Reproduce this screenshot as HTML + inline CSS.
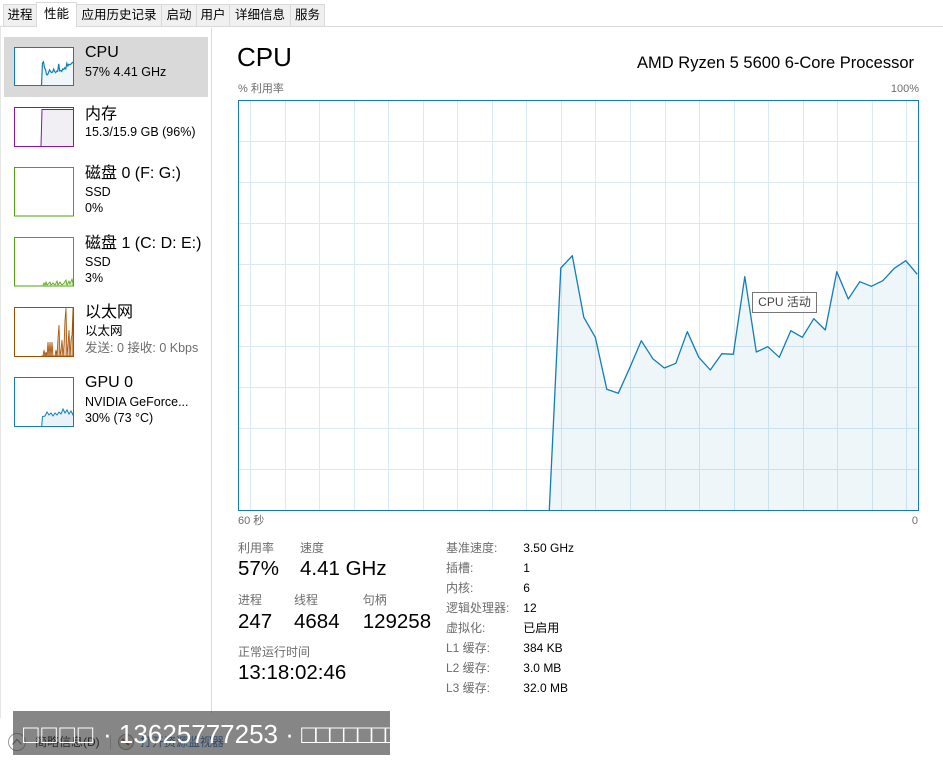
<!DOCTYPE html>
<html><head><meta charset="utf-8">
<style>
html,body{margin:0;padding:0;}
body{width:943px;height:767px;overflow:hidden;position:relative;background:#fff;font-family:"Liberation Sans","Noto Sans CJK SC",sans-serif;color:#000;}
.t{position:absolute;white-space:nowrap;}
.tab{position:absolute;top:4px;height:21px;background:#f0f0f0;border:1px solid #d9d9d9;font-size:12.5px;line-height:21px;text-align:center;color:#000;box-sizing:content-box;}
.tab.sel{top:2px;height:24px;background:#fff;border-bottom:none;line-height:23px;z-index:2;}
.s1{font-size:16px;line-height:20px;}
.s2{font-size:12px;line-height:16px;}
.s3{font-size:12.5px;line-height:16px;}
.g{color:#6d6d6d;}
.big{font-size:20.5px;line-height:24px;}
</style></head><body>

<svg width="943" height="767" style="position:absolute;left:0;top:0" xmlns="http://www.w3.org/2000/svg">
  <rect x="0" y="26" width="943" height="1" fill="#d9d9d9"/>
  <rect x="0" y="27" width="1" height="691" fill="#e6e6e6"/>
  <rect x="211" y="28" width="1" height="685" fill="#d9d9d9"/>
  <rect x="4" y="37" width="204" height="60" fill="#d9d9d9"/>

  <!-- CPU thumb -->
  <rect x="14.5" y="47.5" width="59" height="38" fill="#fff" stroke="#117dbb"/>
  <g transform="translate(14,47) scale(0.0882,0.0951) translate(-238,-100)">
    <polygon fill="#f1f6fa" points="549.3,510 560.8,268 572.3,255.7 583.8,317.3 595.3,337.3 606.8,389.3 618.3,393.3 629.8,367.7 641.3,340.7 652.8,358.7 664.3,368 675.8,363.3 687.3,331.7 698.8,357.3 710.3,370 721.8,353.7 733.3,354.3 744.8,276.7 756.3,352 767.8,346.7 779.3,357.3 790.8,330.7 802.3,337.3 813.8,318.7 825.3,330 836.8,271.7 848.3,299 859.8,281.7 871.3,286.3 882.8,280.7 894.3,268.3 905.8,260.7 917.3,274.3 917.3,510"/>
    <polyline fill="none" stroke="#117dbb" stroke-width="1.2" vector-effect="non-scaling-stroke" points="549.3,510 560.8,268 572.3,255.7 583.8,317.3 595.3,337.3 606.8,389.3 618.3,393.3 629.8,367.7 641.3,340.7 652.8,358.7 664.3,368 675.8,363.3 687.3,331.7 698.8,357.3 710.3,370 721.8,353.7 733.3,354.3 744.8,276.7 756.3,352 767.8,346.7 779.3,357.3 790.8,330.7 802.3,337.3 813.8,318.7 825.3,330 836.8,271.7 848.3,299 859.8,281.7 871.3,286.3 882.8,280.7 894.3,268.3 905.8,260.7 917.3,274.3"/>
  </g>
  <rect x="14.5" y="47.5" width="59" height="38" fill="none" stroke="#117dbb"/>

  <!-- Memory thumb -->
  <rect x="14.5" y="107.5" width="59" height="39" fill="#fff" stroke="#8b12ae"/>
  <polygon points="41,146 42,109.5 73,109.5 73,146" fill="#f1eef4"/>
  <polyline points="41,146 42,109.5 73,109.5" fill="none" stroke="#8b12ae" stroke-width="1"/>
  <rect x="14.5" y="107.5" width="59" height="39" fill="none" stroke="#8b12ae"/>

  <!-- Disk 0 -->
  <rect x="14.5" y="167.5" width="59" height="48.5" fill="#fff" stroke="#4da60c"/>
  <!-- Disk 1 -->
  <rect x="14.5" y="237.5" width="59" height="48.5" fill="#fff" stroke="#4da60c"/>
  <polygon points="43,286 43,285 44,283 45,285 46,282 47,285 48,284 50,282 51,285 53,283 55,285 57,281 58,285 60,282 62,285 64,283 66,280 67,285 69,281 70,284 72,279 73,283 73,286" fill="#dbeecd" stroke="#4da60c" stroke-width="0.8"/>

  <!-- Ethernet -->
  <rect x="14.5" y="307.5" width="59" height="49" fill="#fff" stroke="#a74f01"/>
  <polygon points="41,356 43,356 44,350 45,356 46,352 47,356 48,342 49,356 50,342 51,356 52,342 53,356 55,356 56,350 57,356 58,338 59,325 60,356 61,350 62,340 63,356 64,345 65,320 66,308 67,356 68,345 69,330 70,356 71,340 72,335 73,308 73,356" fill="rgba(167,79,1,0.35)" stroke="#a74f01" stroke-width="0.8"/>
  <rect x="14.5" y="307.5" width="59" height="49" fill="none" stroke="#a74f01"/>

  <!-- GPU -->
  <rect x="14.5" y="377.5" width="59" height="49" fill="#fff" stroke="#117dbb"/>
  <polygon points="41.7,426 42.5,416.5 45,416 47,412 49,415 51,413 53,416 55,413 57,415 59,412 61,414 63,409 65,413 67,410 69,414 71,411 73,415 73.5,412 73.5,426" fill="#eaf2f8" stroke="none"/>
  <polyline points="41.7,426 42.5,416.5 45,416 47,412 49,415 51,413 53,416 55,413 57,415 59,412 61,414 63,409 65,413 67,410 69,414 71,411 73,415 73.5,412" fill="none" stroke="#117dbb" stroke-width="1"/>
  <rect x="14.5" y="377.5" width="59" height="49" fill="none" stroke="#117dbb"/>

  <!-- Main chart -->
  <rect x="238.5" y="100.5" width="680" height="410" fill="#fff"/>
  <g fill="#d9eaf4">
    <rect x="250" y="101" width="1" height="409"/><rect x="285" y="101" width="1" height="409"/>
    <rect x="319" y="101" width="1" height="409"/><rect x="354" y="101" width="1" height="409"/>
    <rect x="388" y="101" width="1" height="409"/><rect x="423" y="101" width="1" height="409"/>
    <rect x="457" y="101" width="1" height="409"/><rect x="492" y="101" width="1" height="409"/>
    <rect x="526" y="101" width="1" height="409"/><rect x="561" y="101" width="1" height="409"/>
    <rect x="595" y="101" width="1" height="409"/><rect x="630" y="101" width="1" height="409"/>
    <rect x="665" y="101" width="1" height="409"/><rect x="699" y="101" width="1" height="409"/>
    <rect x="734" y="101" width="1" height="409"/><rect x="768" y="101" width="1" height="409"/>
    <rect x="803" y="101" width="1" height="409"/><rect x="837" y="101" width="1" height="409"/>
    <rect x="872" y="101" width="1" height="409"/><rect x="906" y="101" width="1" height="409"/>
    <rect x="239" y="141" width="679" height="1"/><rect x="239" y="182" width="679" height="1"/>
    <rect x="239" y="223" width="679" height="1"/><rect x="239" y="264" width="679" height="1"/>
    <rect x="239" y="305" width="679" height="1"/><rect x="239" y="346" width="679" height="1"/>
    <rect x="239" y="387" width="679" height="1"/><rect x="239" y="428" width="679" height="1"/>
    <rect x="239" y="469" width="679" height="1"/>
  </g>
  <polygon fill="rgba(17,125,187,0.07)" points="549.3,510 560.8,268 572.3,255.7 583.8,317.3 595.3,337.3 606.8,389.3 618.3,393.3 629.8,367.7 641.3,340.7 652.8,358.7 664.3,368 675.8,363.3 687.3,331.7 698.8,357.3 710.3,370 721.8,353.7 733.3,354.3 744.8,276.7 756.3,352 767.8,346.7 779.3,357.3 790.8,330.7 802.3,337.3 813.8,318.7 825.3,330 836.8,271.7 848.3,299 859.8,281.7 871.3,286.3 882.8,280.7 894.3,268.3 905.8,260.7 917.3,274.3 917.3,510"/>
  <polyline fill="none" stroke="#117dbb" stroke-width="1.3" stroke-linejoin="round" points="549.3,510 560.8,268 572.3,255.7 583.8,317.3 595.3,337.3 606.8,389.3 618.3,393.3 629.8,367.7 641.3,340.7 652.8,358.7 664.3,368 675.8,363.3 687.3,331.7 698.8,357.3 710.3,370 721.8,353.7 733.3,354.3 744.8,276.7 756.3,352 767.8,346.7 779.3,357.3 790.8,330.7 802.3,337.3 813.8,318.7 825.3,330 836.8,271.7 848.3,299 859.8,281.7 871.3,286.3 882.8,280.7 894.3,268.3 905.8,260.7 917.3,274.3"/>
  <rect x="238.5" y="100.5" width="680" height="410" fill="none" stroke="#117dbb"/>

  <circle cx="17" cy="742" r="8.5" fill="#fff" stroke="#9a9a9a"/>
  <polyline points="12.5,744.5 17,739.5 21.5,744.5" fill="none" stroke="#777" stroke-width="1.2"/>
  <rect x="110" y="735" width="1" height="15" fill="#ccc"/>
  <circle cx="126" cy="742" r="7.5" fill="#ddd" stroke="#888"/>
  <line x1="122" y1="739" x2="129" y2="745" stroke="#c0392b" stroke-width="2"/>
</svg>

<div class="tab" style="left:3px;width:32px;">进程</div>
<div class="tab sel" style="left:36px;width:39px;">性能</div>
<div class="tab" style="left:76px;width:84px;">应用历史记录</div>
<div class="tab" style="left:161px;width:34px;">启动</div>
<div class="tab" style="left:196px;width:32px;">用户</div>
<div class="tab" style="left:229px;width:60px;">详细信息</div>
<div class="tab" style="left:290px;width:33px;">服务</div>

<div class="t s1" style="left:85px;top:43px;">CPU</div>
<div class="t s3" style="left:85px;top:64px;">57% 4.41 GHz</div>

<div class="t s1" style="left:85px;top:104.5px;">内存</div>
<div class="t s3" style="left:85px;top:123.5px;">15.3/15.9 GB (96%)</div>

<div class="t s1" style="left:85px;top:164px;">磁盘 0 (F: G:)</div>
<div class="t s3" style="left:85px;top:183.5px;">SSD</div>
<div class="t s3" style="left:85px;top:200.3px;">0%</div>

<div class="t s1" style="left:85px;top:234px;">磁盘 1 (C: D: E:)</div>
<div class="t s3" style="left:85px;top:253.7px;">SSD</div>
<div class="t s3" style="left:85px;top:270.3px;">3%</div>

<div class="t s1" style="left:85px;top:303.3px;">以太网</div>
<div class="t s3" style="left:85px;top:323px;">以太网</div>
<div class="t s3 g" style="left:85px;top:340.3px;">发送: 0 接收: 0 Kbps</div>

<div class="t s1" style="left:85px;top:373.3px;">GPU 0</div>
<div class="t s3" style="left:85px;top:393.7px;">NVIDIA GeForce...</div>
<div class="t s3" style="left:85px;top:410.3px;">30% (73 °C)</div>

<div class="t" style="left:237px;top:42px;font-size:26px;line-height:30px;">CPU</div>
<div class="t" style="right:29px;top:53px;font-size:16.5px;line-height:20px;">AMD Ryzen 5 5600 6-Core Processor</div>
<div class="t g" style="left:238px;top:82px;font-size:11px;line-height:14px;">% 利用率</div>
<div class="t g" style="right:24px;top:82px;font-size:11px;line-height:14px;">100%</div>
<div class="t g" style="left:238px;top:514px;font-size:11px;line-height:14px;">60 秒</div>
<div class="t g" style="right:25px;top:514px;font-size:11px;line-height:14px;">0</div>

<div class="t" style="left:752px;top:292px;width:63px;height:19px;border:1px solid #767676;background:#fff;font-size:12px;line-height:19px;color:#444;text-align:center;">CPU 活动</div>

<div class="t s2 g" style="left:238px;top:539.7px;">利用率</div>
<div class="t s2 g" style="left:300px;top:539.7px;">速度</div>
<div class="t big" style="left:238px;top:557.2px;">57%</div>
<div class="t big" style="left:300px;top:557.2px;">4.41 GHz</div>

<div class="t s2 g" style="left:238px;top:592px;">进程</div>
<div class="t s2 g" style="left:294px;top:592px;">线程</div>
<div class="t s2 g" style="left:362.7px;top:592px;">句柄</div>
<div class="t big" style="left:238px;top:609.7px;">247</div>
<div class="t big" style="left:294px;top:609.7px;">4684</div>
<div class="t big" style="left:362.7px;top:609.7px;">129258</div>

<div class="t s2 g" style="left:238px;top:643.7px;">正常运行时间</div>
<div class="t big" style="left:238px;top:661.3px;">13:18:02:46</div>

<div class="t s2 g" style="left:446px;top:539.7px;">基准速度:</div>
<div class="t s2" style="left:523.3px;top:539.7px;">3.50 GHz</div>
<div class="t s2 g" style="left:446px;top:559.7px;">插槽:</div>
<div class="t s2" style="left:523.3px;top:559.7px;">1</div>
<div class="t s2 g" style="left:446px;top:579.7px;">内核:</div>
<div class="t s2" style="left:523.3px;top:579.7px;">6</div>
<div class="t s2 g" style="left:446px;top:599.7px;">逻辑处理器:</div>
<div class="t s2" style="left:523.3px;top:599.7px;">12</div>
<div class="t s2 g" style="left:446px;top:619.7px;">虚拟化:</div>
<div class="t s2" style="left:523.3px;top:619.7px;">已启用</div>
<div class="t s2 g" style="left:446px;top:639.7px;">L1 缓存:</div>
<div class="t s2" style="left:523.3px;top:639.7px;">384 KB</div>
<div class="t s2 g" style="left:446px;top:659.7px;">L2 缓存:</div>
<div class="t s2" style="left:523.3px;top:659.7px;">3.0 MB</div>
<div class="t s2 g" style="left:446px;top:679.7px;">L3 缓存:</div>
<div class="t s2" style="left:523.3px;top:679.7px;">32.0 MB</div>

<div class="t s2" style="left:35px;top:734px;">简略信息(D)</div>
<div class="t s2" style="left:140px;top:734px;color:#0b5fb0;">打开资源监视器</div>

<div class="t" style="left:13px;top:711px;width:377px;height:44px;background:rgba(64,64,64,0.63);z-index:5;"></div>
<div class="t" style="left:23px;top:719px;font-size:26px;line-height:30px;color:#fff;z-index:6;"><span style="letter-spacing:2.5px">□□□□</span> · 13625777253 · <span style="letter-spacing:-1.8px">□□□□□□□</span></div>

</body></html>
